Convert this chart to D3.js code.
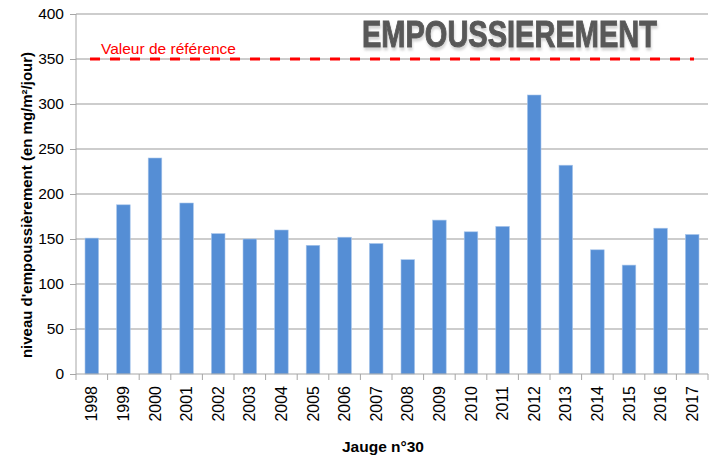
<!DOCTYPE html>
<html>
<head>
<meta charset="utf-8">
<script src="https://cdn.jsdelivr.net/npm/d3@7"></script>
<style>
  body { margin: 0; background: #fff; }
  text { font-family: "Liberation Sans", Arial, sans-serif; }
</style>
</head>
<body>
<div id="graph"></div>
<script>
var years = ['1998','1999','2000','2001','2002','2003','2004','2005','2006','2007',
             '2008','2009','2010','2011','2012','2013','2014','2015','2016','2017']
var values = [151, 188, 240, 190, 156, 150, 160, 143, 152, 145,
              127, 171, 158, 164, 310, 232, 138, 121, 162, 155]
var yTicks = [0, 50, 100, 150, 200, 250, 300, 350, 400]
var reference = 350

var margin = {left: 76, right: 10, top: 14, bottom: 83}
var width = 718 - margin.left - margin.right
var height = 457 - margin.top - margin.bottom

var svg = d3.select('#graph').append('svg')
  .attr('width', 718).attr('height', 457)

var defs = svg.append('defs')
var shadow = defs.append('filter').attr('id', 'shadow')
  .attr('x', '-10%').attr('y', '-20%').attr('width', '130%').attr('height', '160%')
shadow.append('feDropShadow')
  .attr('dx', 1).attr('dy', 3).attr('stdDeviation', 1)
  .attr('flood-color', '#bbbbbb').attr('flood-opacity', 0.6)

var g = svg.append('g').attr('transform', 'translate(' + margin.left + ',' + margin.top + ')')

var x = d3.scaleBand().domain(years).range([0, width]).paddingInner(0.57).paddingOuter(0.285)
var y = d3.scaleLinear().domain([0, 400]).range([height, 0])

// grid
g.selectAll('line.grid').data(yTicks.slice(1)).join('line')
  .attr('class', 'grid')
  .attr('x1', 0).attr('x2', width)
  .attr('y1', d => y(d)).attr('y2', d => y(d))
  .attr('stroke', '#bcbcbc').attr('stroke-width', 1.3)

// bars
g.selectAll('rect.bar').data(values).join('rect')
  .attr('class', 'bar')
  .attr('x', (d, i) => x(years[i]))
  .attr('y', d => y(d))
  .attr('width', x.bandwidth())
  .attr('height', d => height - y(d))
  .attr('fill', '#558ed5')
  .attr('stroke', '#a9c6ec').attr('stroke-width', 0.6)

// y axis
var yAxis = d3.axisLeft(y).tickValues(yTicks).tickSize(6).tickPadding(6)
var ya = g.append('g').call(yAxis)
ya.select('.domain').attr('stroke', '#a6a6a6').attr('d', 'M0,' + height + 'V0')
ya.selectAll('.tick line').attr('stroke', '#a6a6a6')
ya.selectAll('.tick text').attr('font-size', 15.5).attr('fill', '#000')
  .style('font-family', '"Liberation Sans", Arial, sans-serif')

// x axis
var xb = d3.scaleBand().domain(years).range([0, width])
var xa = g.append('g').attr('transform', 'translate(0,' + height + ')')
xa.append('line').attr('x1', 0).attr('x2', width).attr('stroke', '#a6a6a6')
xa.selectAll('line.tk').data(years.concat(['end'])).join('line')
  .attr('class', 'tk')
  .attr('x1', (d, i) => i * xb.step()).attr('x2', (d, i) => i * xb.step())
  .attr('y1', 0).attr('y2', 6).attr('stroke', '#a6a6a6')
xa.selectAll('text').data(years).join('text')
  .attr('transform', d => 'translate(' + (x(d) + x.bandwidth() / 2 + 5.5) + ',12) rotate(-90)')
  .attr('text-anchor', 'end')
  .attr('font-size', 16)
  .text(d => d)

// reference line
g.append('line')
  .attr('x1', x(years[0]) + 5).attr('x2', x(years[years.length - 1]) + x.bandwidth() - 5)
  .attr('y1', y(reference)).attr('y2', y(reference))
  .attr('stroke', '#ff0000').attr('stroke-width', 3)
  .attr('stroke-dasharray', '10,10')
g.append('text')
  .attr('x', 25).attr('y', y(reference) - 5)
  .attr('fill', '#ff0000').attr('font-size', 15.5)
  .text('Valeur de référence')

// title: squeezed horizontally with a scale, like a condensed face
var title = svg.append('text')
  .attr('x', 0).attr('y', 0)
  .attr('font-size', 36).attr('font-weight', 'bold')
  .attr('fill', '#595959').attr('stroke', '#595959').attr('stroke-width', 1)
  .attr('filter', 'url(#shadow)')
  .text('EMPOUSSIEREMENT')
var natural = title.node().getComputedTextLength()
title.attr('transform', 'translate(362,47) scale(' + (295 / natural) + ',1)')

// axis titles
svg.append('text')
  .attr('transform', 'translate(32,205) rotate(-90)')
  .attr('text-anchor', 'middle')
  .attr('font-size', 15).attr('font-weight', 'bold')
  .text("niveau d'empoussièrement (en mg/m²/jour)")
svg.append('text')
  .attr('x', 383).attr('y', 452)
  .attr('text-anchor', 'middle')
  .attr('font-size', 15.5).attr('font-weight', 'bold')
  .text('Jauge n°30')
</script>
</body>
</html>
